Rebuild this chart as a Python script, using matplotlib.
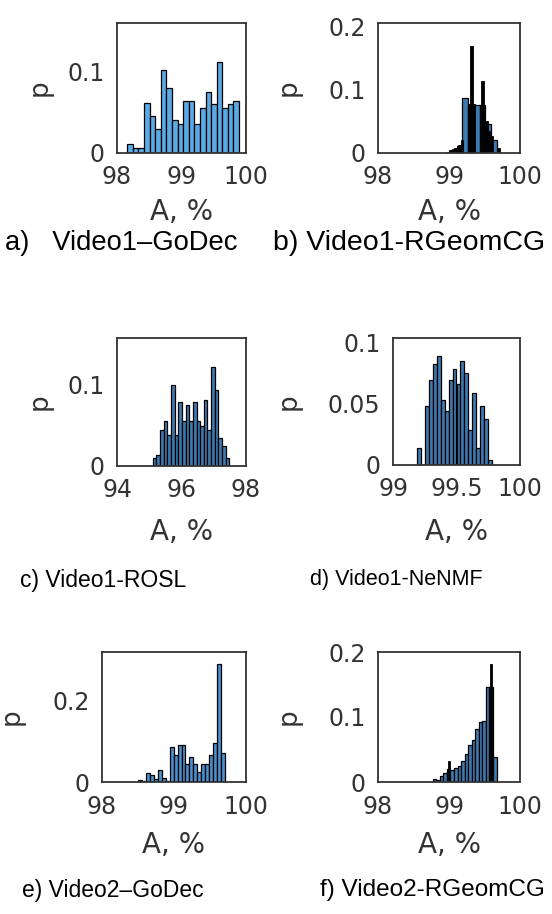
import numpy as np
import matplotlib
matplotlib.use("Agg")
import matplotlib.pyplot as plt

# ---------------- data ----------------
# a) Video1-GoDec
a_start, a_width = 98.16, 0.0866
a_p = [0.0107, 0.0057, 0.0057, 0.061, 0.0455, 0.030, 0.102, 0.0796, 0.0406, 0.0357,
       0.0644, 0.0644, 0.0357, 0.0557, 0.0754, 0.0599, 0.1123, 0.0557, 0.060, 0.0644]

# b) Video1-RGeomCG
b_start, b_width = 99.11, 0.08
b_p = [0.011, 0.087, 0.075, 0.075, 0.076, 0.045, 0.021]
b_spike_x = [98.99, 99.025, 99.06, 99.095, 99.15, 99.18, 99.285, 99.318, 99.35, 99.47,
             99.525, 99.56, 99.595, 99.70]
b_spike_p = [0.002, 0.004, 0.006, 0.008, 0.012, 0.02, 0.078, 0.169, 0.078, 0.113,
             0.05, 0.035, 0.027, 0.008]

# c) Video1-ROSL
c_start, c_width = 95.11, 0.113
c_p = [0.0095, 0.0136, 0.044, 0.055, 0.038, 0.100, 0.038, 0.079, 0.055, 0.075, 0.055,
       0.079, 0.055, 0.049, 0.081, 0.044, 0.122, 0.094, 0.034, 0.025, 0.0095]

# d) Video1-NeNMF
d_start, d_width = 99.19, 0.031
d_p = [0.0137, 0.0, 0.048, 0.070, 0.083, 0.089, 0.053, 0.044, 0.070, 0.079, 0.066,
       0.085, 0.075, 0.029, 0.059, 0.0137, 0.048, 0.038, 0.004]

# e) Video2-GoDec
e_start, e_width = 98.505, 0.0545
e_p = [0.005, 0.002, 0.022, 0.016, 0.008, 0.030, 0.010, 0.002, 0.086, 0.065, 0.090,
       0.090, 0.045, 0.061, 0.045, 0.0245, 0.045, 0.045, 0.065, 0.096, 0.288, 0.070]

# f) Video2-RGeomCG
f_start, f_width = 98.77, 0.050
f_p = [0.004, 0.003, 0.009, 0.014, 0.020, 0.019, 0.022, 0.024, 0.033, 0.043, 0.057,
       0.064, 0.082, 0.092, 0.094, 0.146, 0.146, 0.0385]
f_spike_x = [98.995, 99.595]
f_spike_p = [0.033, 0.181]

captions = ["a)   Video1\u2013GoDec", "b) Video1-RGeomCG", "c) Video1-ROSL",
            "d) Video1-NeNMF", "e) Video2\u2013GoDec", "f) Video2-RGeomCG"]

# ---------------- figure ----------------
W, H = 552, 914
fig = plt.figure(figsize=(W / 100, H / 100), dpi=100)

def box(x0, y0, x1, y1):
    return [x0 / W, 1 - y1 / H, (x1 - x0) / W, (y1 - y0) / H]

panels = [
    dict(rect=box(117, 23, 246, 153), start=a_start, width=a_width, p=a_p,
         color="#5aaae6", xlim=(98, 100), xt=[98, 99, 100], xtl=["98", "99", "100"],
         ylim=(0, 0.16), yt=[0, 0.1], ytl=["0", "0.1"], ylx=-0.50),
    dict(rect=box(378, 23, 520, 153), start=b_start, width=b_width, p=b_p,
         sx=b_spike_x, sp=b_spike_p, sw=0.036,
         color="#3d7ab0", xlim=(98, 100), xt=[98, 99, 100], xtl=["98", "99", "100"],
         ylim=(0, 0.205), yt=[0, 0.1, 0.2], ytl=["0", "0.1", "0.2"], ylx=-0.54),
    dict(rect=box(117, 338, 246, 466), start=c_start, width=c_width, p=c_p,
         color="#3d7ab0", xlim=(94, 98), xt=[94, 96, 98], xtl=["94", "96", "98"],
         ylim=(0, 0.158), yt=[0, 0.1], ytl=["0", "0.1"], ylx=-0.50),
    dict(rect=box(393, 338, 520, 465), start=d_start, width=d_width, p=d_p,
         color="#3d7ab0", xlim=(99, 100), xt=[99, 99.5, 100], xtl=["99", "99.5", "100"],
         ylim=(0, 0.104), yt=[0, 0.05, 0.1], ytl=["0", "0.05", "0.1"], ylx=-0.72),
    dict(rect=box(102, 652, 246, 782), start=e_start, width=e_width, p=e_p,
         color="#4a8fcc", xlim=(98, 100), xt=[98, 99, 100], xtl=["98", "99", "100"],
         ylim=(0, 0.318), yt=[0, 0.2], ytl=["0", "0.2"], ylx=-0.535),
    dict(rect=box(378, 652, 520, 782), start=f_start, width=f_width, p=f_p,
         sx=f_spike_x, sp=f_spike_p, sw=0.03,
         color="#3d7ab0", xlim=(98, 100), xt=[98, 99, 100], xtl=["98", "99", "100"],
         ylim=(0, 0.2), yt=[0, 0.1, 0.2], ytl=["0", "0.1", "0.2"], ylx=-0.54),
]

cap_pos = [(5, 243), (273, 243), (20, 580), (310, 580), (22, 890), (320, 890)]
cap_size = [19.7, 20.5, 16.5, 15.5, 16.5, 17.5]
xlabel_y = [212, 212, 532, 532, 845, 845]

txt = "#333333"
for i, pn in enumerate(panels):
    ax = fig.add_axes(pn["rect"])
    n = len(pn["p"])
    lefts = pn["start"] + pn["width"] * np.arange(n)
    ax.bar(lefts, pn["p"], width=pn["width"], align="edge", color=pn["color"],
           edgecolor="black", linewidth=0.9)
    if "sx" in pn:
        ax.bar(pn["sx"], pn["sp"], width=pn["sw"], color="black",
               edgecolor="black", linewidth=0.6)
    ax.set_xlim(*pn["xlim"])
    ax.set_ylim(*pn["ylim"])
    ax.set_xticks(pn["xt"])
    ax.set_xticklabels(pn["xtl"])
    ax.set_yticks(pn["yt"])
    ax.set_yticklabels(pn["ytl"])
    ax.tick_params(length=0, labelsize=17, colors=txt, pad=9)
    for s in ax.spines.values():
        s.set_color("#333333")
        s.set_linewidth(1.3)
    ax.set_ylabel("p", fontsize=19, color=txt)
    ax.yaxis.set_label_coords(pn["ylx"], 0.5)
    # x label
    x0, y0, w, h = pn["rect"]
    fig.text(x0 + w / 2, 1 - xlabel_y[i] / H, "A, %", fontsize=20, color=txt,
             ha="center", va="center")
    cx, cy = cap_pos[i]
    fig.text(cx / W, 1 - cy / H, captions[i], fontsize=cap_size[i],
             family=["Liberation Sans Narrow", "Liberation Sans", "DejaVu Sans"],
             color="black", ha="left", va="center")

fig.savefig("out.png", dpi=100)
